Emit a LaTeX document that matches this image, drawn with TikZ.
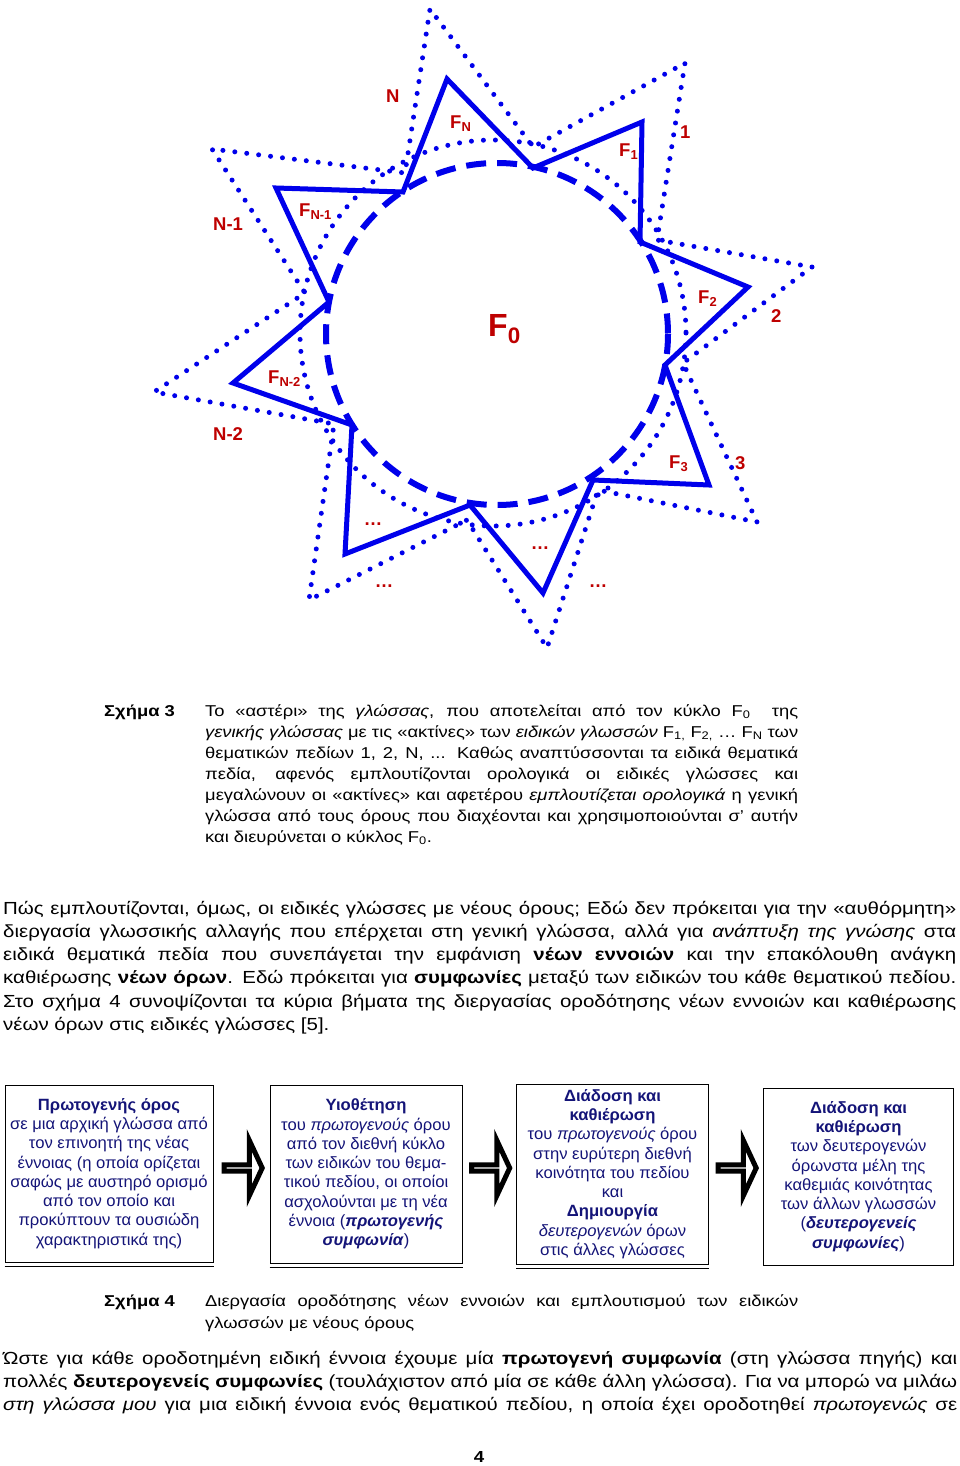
\documentclass[tikz,border=0pt]{standalone}
\usepackage{fontspec}
\setmainfont[FakeStretch=1.17]{Liberation Sans}
\newfontfamily\arialfont{Liberation Sans}
\newfontfamily\boxfont[FakeStretch=1.02]{Liberation Sans}
\usetikzlibrary{shapes.arrows}

\definecolor{rayblue}{RGB}{0,0,235}
\definecolor{labred}{RGB}{190,0,0}
\definecolor{boxnavy}{RGB}{20,20,120}
\newcommand\tridots{...}

\tikzset{
  ray/.style={draw=rayblue, line width=5pt, line join=miter},
  grown/.style={draw=rayblue, line width=5pt, line cap=round, dash pattern=on 0pt off 12pt},
  fzero/.style={draw=rayblue, line width=6pt, dash pattern=on 20pt off 11pt},
  lab/.style={text=labred, font=\arialfont\bfseries\fontsize{18.5}{20}\selectfont, inner sep=0pt, anchor=base west},
  dots/.style={lab, anchor=base},
  capline/.style={anchor=base west, inner sep=0pt, font=\fontsize{15.7}{21}\selectfont},
  bodyline/.style={anchor=base west, inner sep=0pt, font=\fontsize{17.5}{23.3}\selectfont},
  stepbox/.style={draw, line width=1pt, inner sep=0pt, align=center, text=boxnavy,
    font=\boxfont\fontsize{16.3}{19.25}\selectfont},
  blockarrow/.style={single arrow, draw, fill=white, line width=5pt, inner sep=0pt,
    minimum height=38pt, minimum width=55pt, single arrow head extend=20pt,
    single arrow tip angle=130},
}

\begin{document}
\begin{tikzpicture}[x=1pt,y=-1pt]
\path[use as bounding box, fill=white] (0,0) rectangle (960,1466);

% the star of the language
\draw[fzero] (497,334) circle[radius=171];
\draw[grown] (493,333) circle[radius=193];
\draw[ray] (748,287) -- (665,365) -- (709,485) -- (593,480) -- (543,593) -- (470,505)
  -- (345,554) -- (352,425) -- (233,383) -- (329,302) -- (276,188) -- (403,192)
  -- (447,79) -- (533,168) -- (642,122) -- (640,242) -- cycle;
\draw[grown] (812,267) -- (683,363) -- (757,522) -- (598,490) -- (547,648) -- (467,520)
  -- (309,600) -- (334,424) -- (154,392) -- (305,293) -- (212,149) -- (405,173)
  -- (430,9) -- (533,147) -- (685,63) -- (657,240) -- cycle;

\node[lab] (n) at (386,102.3) {N};
\node[lab] (fn) at (450,128.3) {F\textsubscript{N}};
\node[lab] (one) at (680,138.3) {1};
\node[lab] (f1) at (619,156.7) {F\textsubscript{1}};
\node[lab] (nm1) at (213,230) {N-1};
\node[lab] (fnm1) at (299,216.7) {F\textsubscript{N-1}};
\node[lab] (f2) at (698,303.3) {F\textsubscript{2}};
\node[lab] (two) at (771,322.7) {2};
\node[lab, font=\arialfont\bfseries\fontsize{32}{34}\selectfont] (f0) at (488,336.7) {F\textsubscript{0}};
\node[lab] (fnm2) at (268,383.3) {F\textsubscript{N-2}};
\node[lab] (nm2) at (213,440) {N-2};
\node[lab] (f3) at (669,468.3) {F\textsubscript{3}};
\node[lab] (three) at (735,469.3) {3};
\node[dots] (dots1) at (373,525) {…};
\node[dots] (dots2) at (540,549.5) {…};
\node[dots] (dots3) at (384,587) {…};
\node[dots] (dots4) at (598,587) {…};

% caption 3
\node[capline, font=\bfseries\fontsize{15.7}{21}\selectfont] (fig3) at (104,716) {Σχήμα 3};
\foreach \txt [count=\i] in {
  {Το «αστέρι» της \textit{γλώσσας}, που αποτελείται από τον κύκλο F\textsubscript{0}\ \ της},
  {\textit{γενικής γλώσσας} με τις «ακτίνες» των \textit{ειδικών γλωσσών} F\textsubscript{1,} F\textsubscript{2,} … F\textsubscript{N} των},
  {θεματικών πεδίων 1, 2, N, \tridots{} Καθώς αναπτύσσονται τα ειδικά θεματικά},
  {πεδία, αφενός εμπλουτίζονται ορολογικά οι ειδικές γλώσσες και},
  {μεγαλώνουν οι «ακτίνες» και αφετέρου \textit{εμπλουτίζεται ορολογικά} η γενική},
  {γλώσσα από τους όρους που διαχέονται και χρησιμοποιούνται σ’ αυτήν}}
  \node[capline] (cap3-\i) at (205,{695+21*\i}) {\makebox[593pt][s]{\txt}};
\node[capline] (cap3-7) at (205,842) {και διευρύνεται ο κύκλος F\textsubscript{0}.};

% text
\foreach \txt [count=\i] in {
  {Πώς εμπλουτίζονται, όμως, οι ειδικές γλώσσες με νέους όρους; Εδώ δεν πρόκειται για την «αυθόρμητη»},
  {διεργασία γλωσσικής αλλαγής που επέρχεται στη γενική γλώσσα, αλλά για \textit{ανάπτυξη της γνώσης} στα},
  {ειδικά θεματικά πεδία που συνεπάγεται την εμφάνιση \textbf{νέων εννοιών} και την επακόλουθη ανάγκη},
  {καθιέρωσης \textbf{νέων όρων}. Εδώ πρόκειται για \textbf{συμφωνίες} μεταξύ των ειδικών του κάθε θεματικού πεδίου.},
  {Στο σχήμα 4 συνοψίζονται τα κύρια βήματα της διεργασίας οροδότησης νέων εννοιών και καθιέρωσης}}
  \node[bodyline] (par1-\i) at (3,{890.7+23.3*\i}) {\makebox[953pt][s]{\txt}};
\node[bodyline] (par1-6) at (3,1030.5) {νέων όρων στις ειδικές γλώσσες [5].};

% steps
\node[stepbox, minimum width=208pt, minimum height=177pt] (b1) at (109,1173.5)
  {\textbf{Πρωτογενής όρος}\\σε μια αρχική γλώσσα από\\τον επινοητή της νέας\\έννοιας (η οποία ορίζεται\\σαφώς με αυστηρό ορισμό\\από τον οποίο και\\προκύπτουν τα ουσιώδη\\χαρακτηριστικά της)};
\node[stepbox, minimum width=192pt, minimum height=178pt] (b2) at (366,1174)
  {\textbf{Υιοθέτηση}\\του \textit{πρωτογενούς} όρου\\από τον διεθνή κύκλο\\των ειδικών του θεμα-\\τικού πεδίου, οι οποίοι\\ασχολούνται με τη νέα\\έννοια (\textbf{\textit{πρωτογενής}}\\\textbf{\textit{συμφωνία}})};
\node[stepbox, minimum width=192pt, minimum height=180pt] (b3) at (612.5,1174)
  {\textbf{Διάδοση και}\\\textbf{καθιέρωση}\\του \textit{πρωτογενούς} όρου\\στην ευρύτερη διεθνή\\κοινότητα του πεδίου\\και\\\textbf{Δημιουργία}\\\textit{δευτερογενών} όρων\\στις άλλες γλώσσες};
\node[stepbox, minimum width=190pt, minimum height=177pt] (b4) at (858.5,1176.5)
  {\textbf{Διάδοση και}\\\textbf{καθιέρωση}\\των δευτερογενών\\όρωνστα μέλη της\\καθεμιάς κοινότητας\\των άλλων γλωσσών\\(\textbf{\textit{δευτερογενείς}}\\\textbf{\textit{συμφωνίες}})};
\foreach \b in {b1,b2,b3}
  \draw[line width=1pt] ([yshift=-4pt]\b.south west) -- ([yshift=-4pt]\b.south east);
\node[blockarrow] (ar1) at (242.5,1168) {};
\node[blockarrow] (ar2) at (490,1168) {};
\node[blockarrow] (ar3) at (736.5,1168) {};

% caption 4
\node[capline, font=\bfseries\fontsize{15.7}{21}\selectfont] (fig4) at (104,1306) {Σχήμα 4};
\node[capline] (cap4-1) at (205,1306) {\makebox[593pt][s]{Διεργασία οροδότησης νέων εννοιών και εμπλουτισμού των ειδικών}};
\node[capline] (cap4-2) at (205,1328) {γλωσσών με νέους όρους};

% text
\foreach \txt [count=\i] in {
  {Ώστε για κάθε οροδοτημένη ειδική έννοια έχουμε μία \textbf{πρωτογενή συμφωνία} (στη γλώσσα πηγής) και},
  {πολλές \textbf{δευτερογενείς συμφωνίες} (τουλάχιστον από μία σε κάθε άλλη γλώσσα). Για να μπορώ να μιλάω},
  {\textit{στη γλώσσα μου} για μια ειδική έννοια ενός θεματικού πεδίου, η οποία έχει οροδοτηθεί \textit{πρωτογενώς} σε}}
  \node[bodyline] (par2-\i) at (3,{1340.7+23.3*\i}) {\makebox[954pt][s]{\txt}};

\node[anchor=base, inner sep=0pt, font=\bfseries\fontsize{16}{20}\selectfont] (page) at (479,1462) {4};
\end{tikzpicture}
\end{document}
